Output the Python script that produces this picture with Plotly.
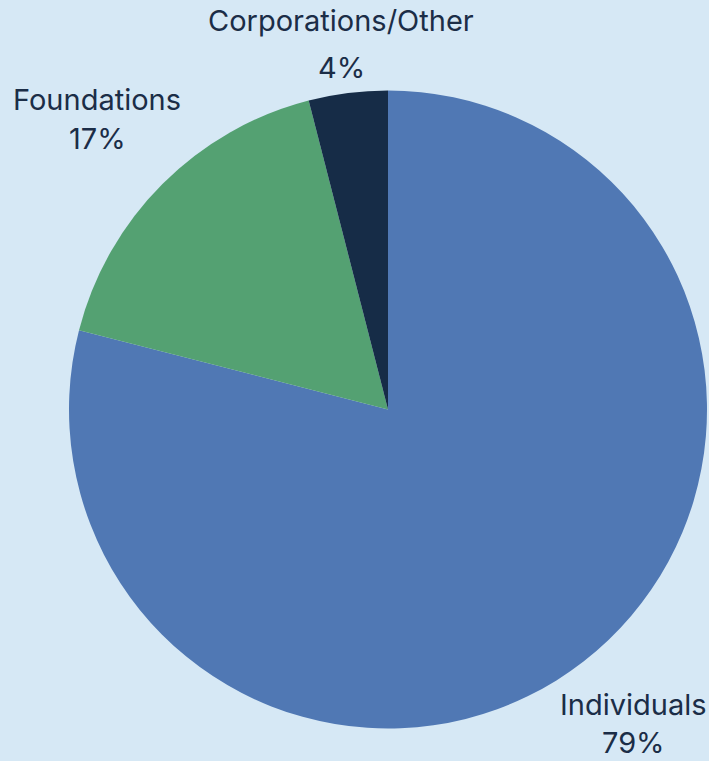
import plotly.graph_objects as go

categories = ["Individuals", "Foundations", "Corporations/Other"]
shares = [79, 17, 4]
slice_colors = ["#5078b4", "#54a172", "#162c47"]

W, H = 709, 761
BG = "#d6e8f5"
TXT = "#1b2d47"
FONT = "Inter, 'Noto Sans', sans-serif"

# label pixel positions (centre x, name cap-centre y, pct cap-centre y)
label_pos = {
    "Individuals": (633, 704, 742),
    "Foundations": (97, 99, 138),
    "Corporations/Other": (341, 21, 67),
}

fig = go.Figure(
    go.Pie(
        labels=categories,
        values=shares,
        marker=dict(colors=slice_colors, line=dict(width=0)),
        sort=False,
        direction="clockwise",
        rotation=0,
        textinfo="none",
        hoverinfo="label+percent",
        domain=dict(x=[69 / W, 707 / W], y=[1 - 728.5 / H, 1 - 90.5 / H]),
        showlegend=False,
    )
)

annotations = []
for cat, val in zip(categories, shares):
    cx, ny, py = label_pos[cat]
    for text, yy in ((cat, ny), (f"{val}%", py)):
        annotations.append(
            dict(
                x=cx / W, y=1 - yy / H, xref="paper", yref="paper",
                text=text, showarrow=False, xanchor="center", yanchor="middle",
                font=dict(family=FONT, size=29, color=TXT),
            )
        )

fig.update_layout(
    width=W, height=H,
    margin=dict(l=0, r=0, t=0, b=0),
    paper_bgcolor=BG, plot_bgcolor=BG,
    annotations=annotations,
)

fig.write_html("out.html", config={"displayModeBar": False})

# remove the default page margin so the figure fills the window
with open("out.html", "r", encoding="utf-8") as f:
    html = f.read()
html = html.replace(
    "<head>",
    "<head><style>html,body{margin:0;padding:0;background:%s;overflow:hidden;}</style>" % BG,
    1,
)
with open("out.html", "w", encoding="utf-8") as f:
    f.write(html)
